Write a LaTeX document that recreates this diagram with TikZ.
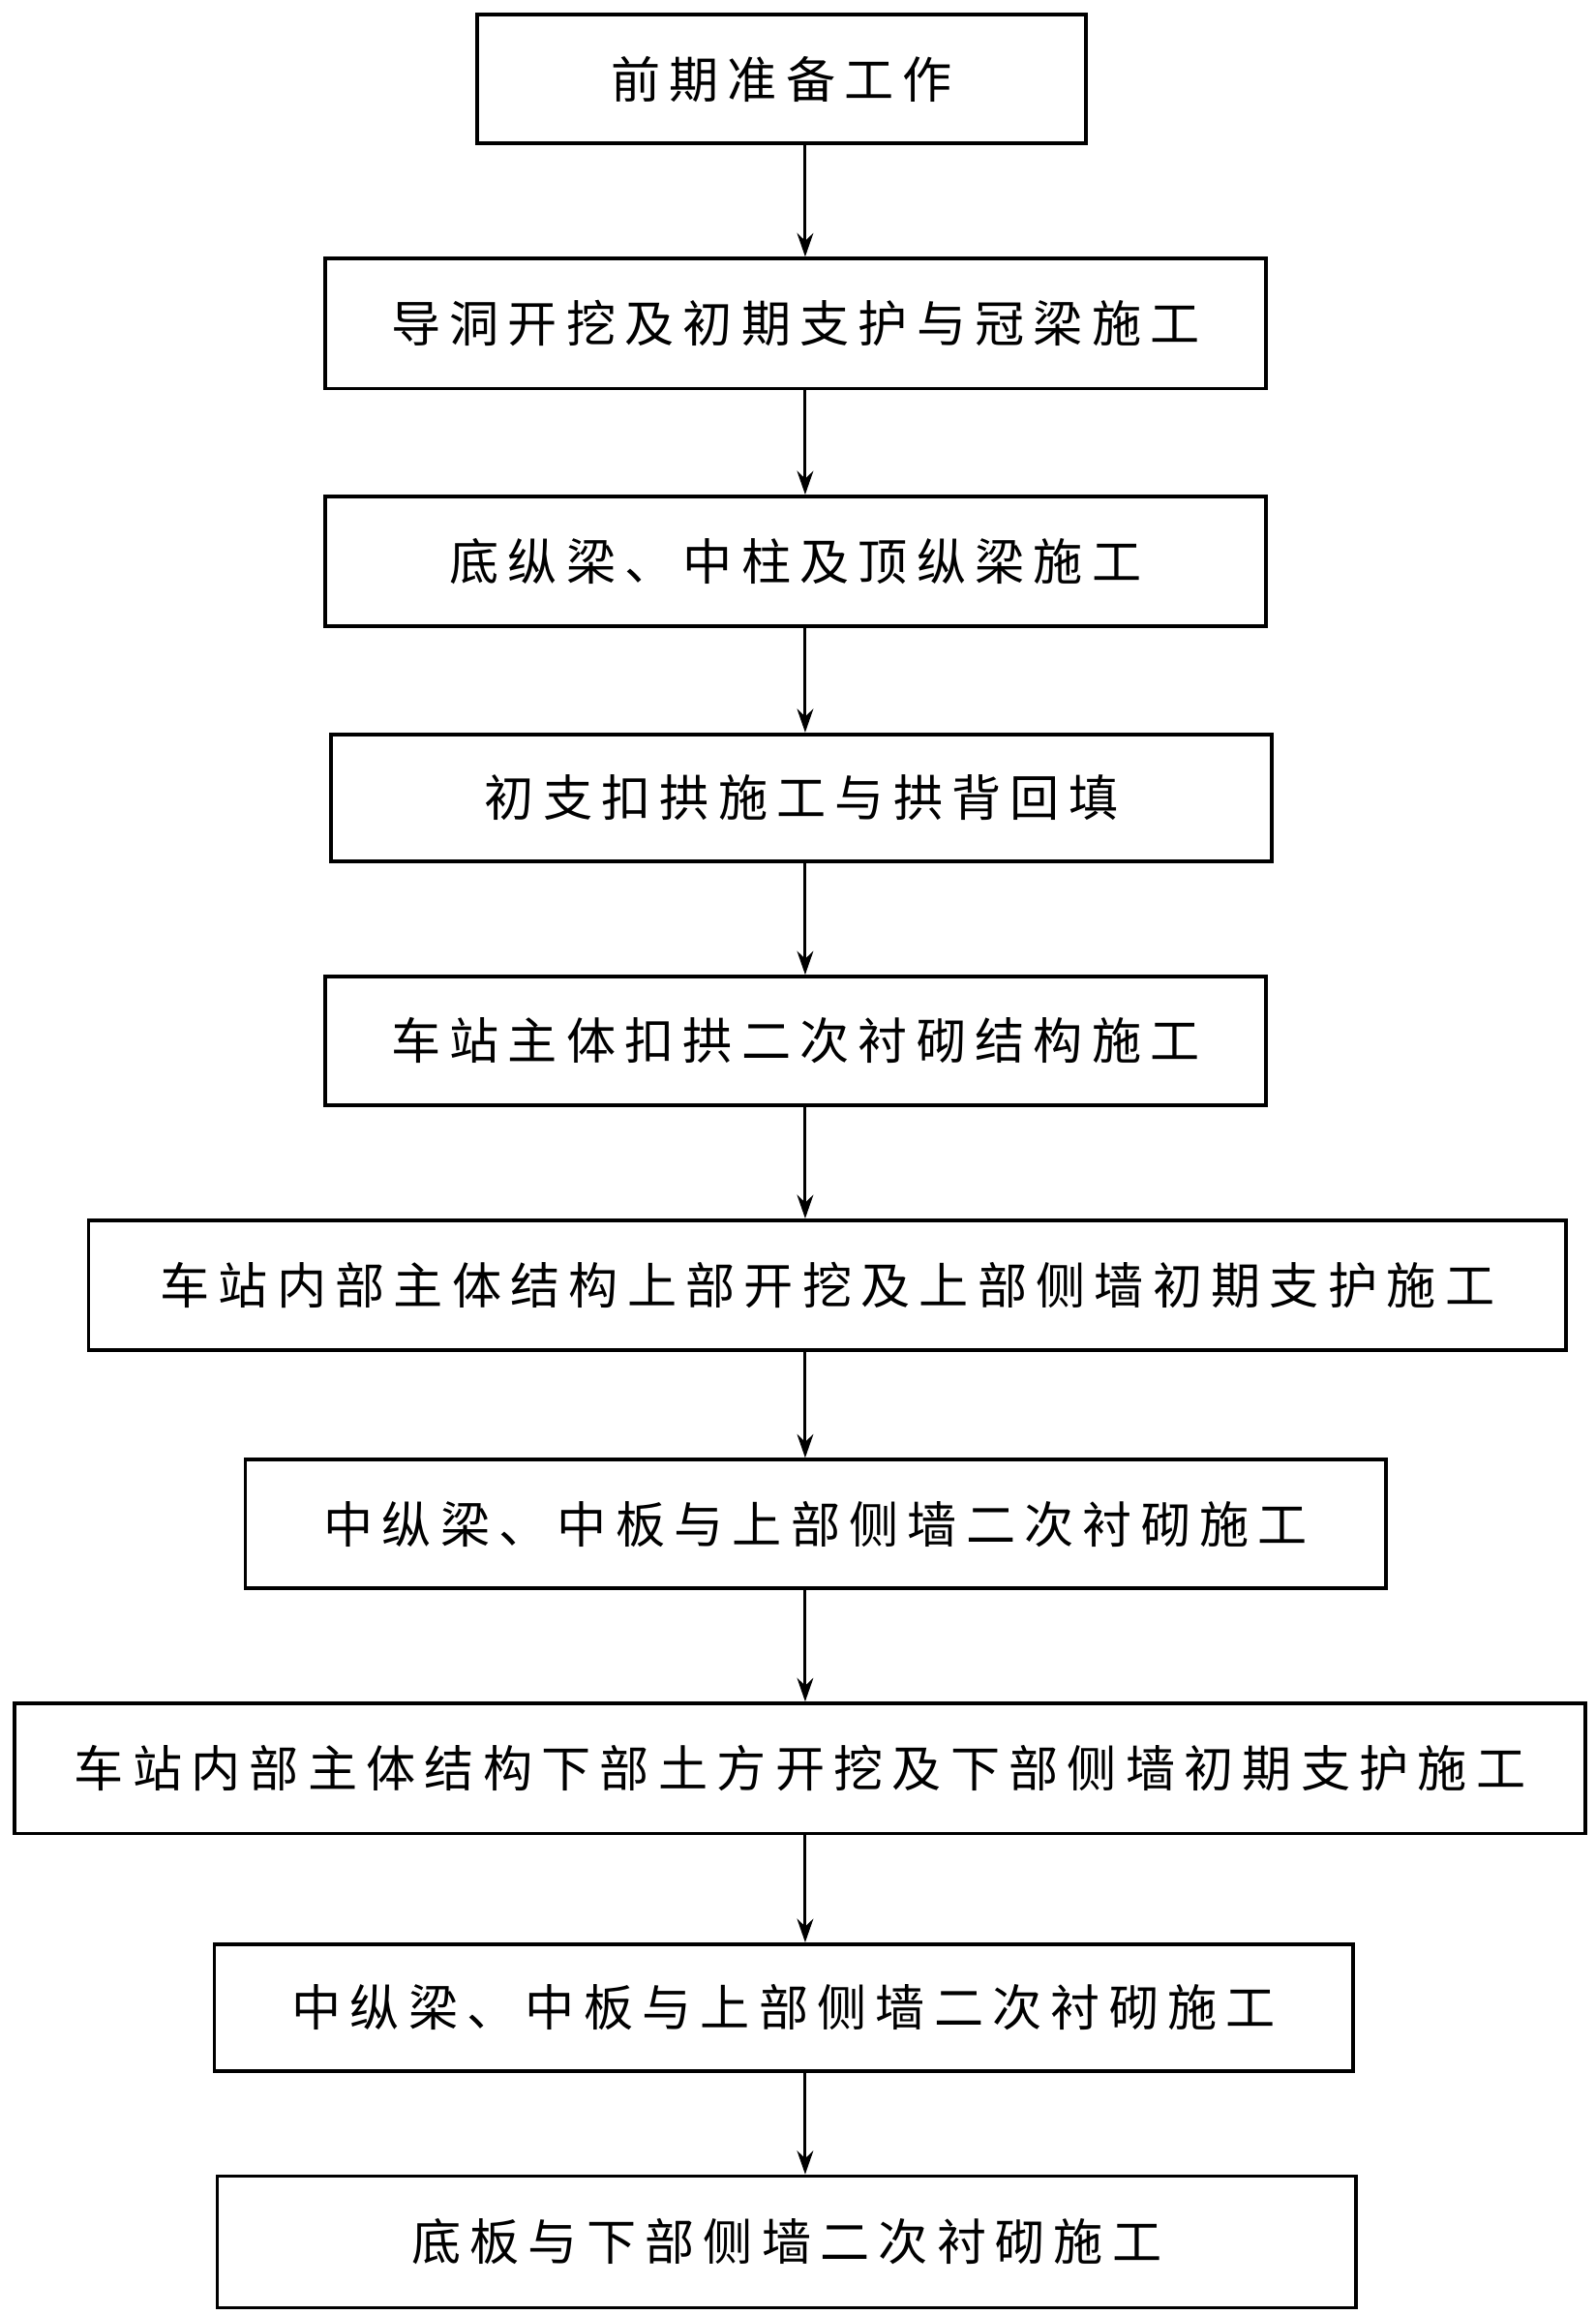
\documentclass[tikz,border=0pt]{standalone}
\usepackage{fontspec}
\newfontfamily\cjk[LetterSpace=18]{Noto Sans CJK SC}
\usetikzlibrary{arrows.meta}
\begin{document}
\begin{tikzpicture}[x=1pt,y=-1pt,
 box/.style={draw,line width=2.4pt,inner sep=0pt,font=\cjk\fontsize{33.5}{34}\selectfont},
 arr/.style={line width=2pt,-{Stealth[length=16pt,width=11pt]}}]
\useasboundingbox (0,0) rectangle (1080,1567);
\def\B#1#2#3#4#5#6{\node[box,minimum width=#3-#2,minimum height=#5-#4] (#1) at ({(#2+#3)/2},{(#4+#5)/2}) {#6};}
\B{n1}{323}{735}{10}{97}{前期准备工作}
\B{n2}{220}{857}{175}{263}{导洞开挖及初期支护与冠梁施工}
\B{n3}{220}{857}{336}{424}{底纵梁、中柱及顶纵梁施工}
\B{n4}{224}{861}{497}{583}{初支扣拱施工与拱背回填}
\B{n5}{220}{857}{661}{748}{车站主体扣拱二次衬砌结构施工}
\B{n6}{60}{1060}{826}{914}{车站内部主体结构上部开挖及上部侧墙初期支护施工}
\B{n7}{166}{938}{988}{1075}{中纵梁、中板与上部侧墙二次衬砌施工}
\B{n8}{10}{1073}{1153}{1241}{车站内部主体结构下部土方开挖及下部侧墙初期支护施工}
\B{n9}{145}{916}{1316}{1402}{中纵梁、中板与上部侧墙二次衬砌施工}
\B{n10}{147}{918}{1473}{1562}{底板与下部侧墙二次衬砌施工}
\coordinate (ax) at (545,0);
\foreach \a/\b in {n1/n2,n2/n3,n3/n4,n4/n5,n5/n6,n6/n7,n7/n8,n8/n9,n9/n10}
  \draw[arr] (\a.south -| ax) -- (\b.north -| ax);
\end{tikzpicture}
\end{document}
